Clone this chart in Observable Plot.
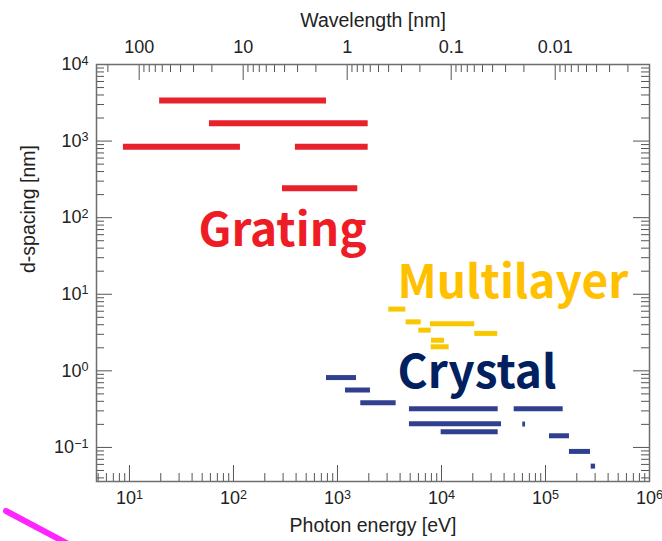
<!DOCTYPE html>
<html><head><meta charset="utf-8">
<script src="https://cdn.jsdelivr.net/npm/d3@7"></script>
<script src="https://cdn.jsdelivr.net/npm/@observablehq/plot@0.6"></script>
<style>
body{margin:0;background:#fff}
#wrap{position:relative;width:662px;height:541px;overflow:hidden}
#deco{position:absolute;left:0;top:0;pointer-events:none}
</style>
</head><body><div id="wrap"></div>
<script>
// ---- data (photon energy ranges in eV, d-spacing in nm) ----
const gratingLo = [19.5, 58.8, 8.75, 394, 296];
const gratingHi = [784, 1973, 116.7, 1973, 1567];
const gratingD  = [3380, 1706, 845, 845, 243];

const multilayerLo = [3111, 4571, 7832, 6055, 20900, 8017, 7960];
const multilayerHi = [4540, 6382, 20900, 7960, 34750, 10700, 11860];
const multilayerD  = [6.4, 4.36, 4.11, 3.40, 3.08, 2.51, 2.06];

const crystalLo = [784, 1194, 1675, 4920, 50000, 4920, 9930, 60500, 109200, 170000, 275000];
const crystalHi = [1524, 2075, 3664, 35090, 148000, 37760, 35090, 64300, 170000, 271000, 303000];
const crystalD  = [0.817, 0.562, 0.384, 0.321, 0.32, 0.204, 0.160, 0.202, 0.142, 0.0887, 0.057];

const labelNames = ["Grating", "Multilayer", "Crystal"];
const labelE = [46, 3776, 3776];
const labelD = [42.8, 8.9, 0.592];

const energyTicks = [10, 100, 1e3, 1e4, 1e5, 1e6];
const energyTickLabels = ["10^1", "10^2", "10^3", "10^4", "10^5", "10^6"];
const dTicks = [0.1, 1, 10, 100, 1e3, 1e4];
const dTickLabels = ["10^-1", "10^0", "10^1", "10^2", "10^3", "10^4"];
const wavelengthTicks = [100, 10, 1, 0.1, 0.01];
const wavelengthTickLabels = ["100", "10", "1", "0.1", "0.01"];

const hc = 1239.84; // eV·nm
const xDomain = [4.82, 1e6];
const yDomain = [0.0359, 1e4];

// ---- derived tables ----
const colors = {Grating: "#e8222b", Multilayer: "#f9c700", Crystal: "#313f8f"};
const widths = {Grating: 6, Multilayer: 5, Crystal: 5};
const bars = [];
gratingLo.forEach((v, i) => bars.push({g: "Grating", lo: v, hi: gratingHi[i], d: gratingD[i]}));
multilayerLo.forEach((v, i) => bars.push({g: "Multilayer", lo: v, hi: multilayerHi[i], d: multilayerD[i]}));
crystalLo.forEach((v, i) => bars.push({g: "Crystal", lo: v, hi: crystalHi[i], d: crystalD[i]}));
const labels = labelNames.map((n, i) => ({n, x: labelE[i], y: labelD[i]}));
const labelColors = {Grating: "#ee1c24", Multilayer: "#ffc000", Crystal: "#002060"};

function minorLog(lo, hi) {
  const out = [];
  for (let k = Math.floor(Math.log10(lo)); k <= Math.ceil(Math.log10(hi)); k++)
    for (let m = 2; m <= 9; m++) { const v = m * Math.pow(10, k); if (v > lo && v < hi) out.push(v); }
  return out;
}
const energyMinor = minorLog(xDomain[0], xDomain[1]);
const dMinor = minorLog(yDomain[0], yDomain[1]);
const wlMinor = minorLog(hc / xDomain[1], hc / xDomain[0]).map(l => hc / l);
const wlMajorE = wavelengthTicks.map(l => hc / l);
const wlLabel = new Map(wlMajorE.map((e, i) => [e, wavelengthTickLabels[i]]));

const W = 662, H = 541, mL = 96, mR = 13, mT = 64, mB = 60;
const innerW = W - mL - mR, innerH = H - mT - mB;
const MAJ = 16, MIN = 8, tickColor = "#555";

const fmtE = new Map(energyTicks.map((v, i) => [v, energyTickLabels[i]]));
const fmtD = new Map(dTicks.map((v, i) => [v, dTickLabels[i]]));
const titleSize = 19.5;

const chart = Plot.plot({
  width: W, height: H,
  marginLeft: mL, marginRight: mR, marginTop: mT, marginBottom: mB,
  style: {fontFamily: "'Liberation Sans', Arial, sans-serif", fontSize: "18px", color: "#222", background: "#fff"},
  x: {type: "log", domain: xDomain, axis: null},
  y: {type: "log", domain: yDomain, axis: null},
  marks: [
    // ticks (inward)
    Plot.tickX(energyTicks, {x: d => d, insetTop: innerH - MAJ, stroke: tickColor}),
    Plot.tickX(energyMinor, {x: d => d, insetTop: innerH - MIN, stroke: tickColor}),
    Plot.tickX(wlMajorE, {x: d => d, insetBottom: innerH - MAJ, stroke: tickColor}),
    Plot.tickX(wlMinor, {x: d => d, insetBottom: innerH - MIN, stroke: tickColor}),
    Plot.tickY(dTicks, {y: d => d, insetRight: innerW - MAJ, stroke: tickColor}),
    Plot.tickY(dMinor, {y: d => d, insetRight: innerW - MIN, stroke: tickColor}),
    Plot.tickY(dTicks, {y: d => d, insetLeft: innerW - MAJ, stroke: tickColor}),
    Plot.tickY(dMinor, {y: d => d, insetLeft: innerW - MIN, stroke: tickColor}),
    Plot.frame({stroke: "#6e6e6e", strokeWidth: 1.5}),
    // axis labels
    Plot.axisX({anchor: "bottom", ticks: energyTicks, tickSize: 0, tickPadding: 10, tickFormat: d => fmtE.get(d), label: null, fill: "#222"}),
    Plot.axisX({anchor: "top", ticks: wlMajorE, tickSize: 0, tickPadding: 12, tickFormat: d => wlLabel.get(d), label: null, fill: "#222"}),
    Plot.axisY({anchor: "left", ticks: dTicks, tickSize: 0, tickPadding: 8, tickFormat: d => fmtD.get(d), label: null, fill: "#222"}),
    Plot.text(["Photon energy [eV]"], {frameAnchor: "bottom", dy: 50, text: d => d, fill: "#222", fontSize: titleSize}),
    Plot.text(["Wavelength [nm]"], {frameAnchor: "top", dy: -51, text: d => d, fill: "#222", fontSize: titleSize}),
    Plot.text(["d-spacing [nm]"], {frameAnchor: "left", dx: -68, rotate: -90, text: d => d, fill: "#222", fontSize: titleSize}),
    // bars
    ...["Grating", "Multilayer", "Crystal"].map(g =>
      Plot.ruleY(bars.filter(b => b.g === g), {x1: "lo", x2: "hi", y: "d", stroke: colors[g], strokeWidth: widths[g], strokeLinecap: "butt"})
    ),
    // category labels
    Plot.text(labels, {x: "x", y: "y", text: "n", fill: d => labelColors[d.n], textAnchor: "start", lineAnchor: "bottom",
      fontSize: 46, fontWeight: "bold", fontFamily: "'Noto Sans CJK KR', 'Noto Sans', sans-serif"})
  ]
});

// superscript exponents
const NS = "http://www.w3.org/2000/svg";
chart.querySelectorAll("text").forEach(t => {
  const m = t.textContent.match(/^10\^(.+)$/);
  if (!m) return;
  const exp = m[1].replace("-", "\u2212");
  while (t.firstChild) t.removeChild(t.firstChild);
  t.appendChild(document.createTextNode("10"));
  const ts = document.createElementNS(NS, "tspan");
  ts.setAttribute("dy", "-0.45em");
  ts.setAttribute("font-size", "0.7em");
  ts.textContent = exp;
  t.appendChild(ts);
});

const wrap = document.getElementById("wrap");
wrap.appendChild(chart);
// decorative magenta stroke present in the source picture
wrap.insertAdjacentHTML("beforeend",
  '<svg id="deco" width="662" height="541"><line x1="6" y1="511" x2="72" y2="546" stroke="#ff1aff" stroke-width="6" stroke-linecap="round" opacity="0.95"/></svg>');
</script>
</body></html>
